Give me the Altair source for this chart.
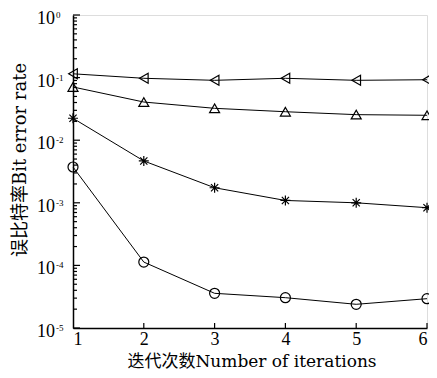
import altair as alt
import pandas as pd

iterations = [1, 2, 3, 4, 5, 6]
ber_tri_left = [0.115, 0.0975, 0.0905, 0.0975, 0.0905, 0.0925]
ber_tri_up = [0.0708, 0.0407, 0.0323, 0.0285, 0.0256, 0.0250]
ber_star = [0.0224, 0.00466, 0.00174, 0.00109, 0.00100, 0.000835]
ber_circle = [0.00373, 0.000113, 3.58e-5, 3.05e-5, 2.39e-5, 2.94e-5]

series_names = ["A", "B", "C", "D"]
series_values = [ber_tri_left, ber_tri_up, ber_star, ber_circle]
ASTERISK = "M-1,0L1,0M0,-1L0,1M-0.72,-0.72L0.72,0.72M-0.72,0.72L0.72,-0.72"
series_shapes = ["triangle-left", "triangle-up", ASTERISK, "circle"]

major_exps = [0, -1, -2, -3, -4, -5]
exp_labels = ["0", "-1", "-2", "-3", "-4", "-5"]
x_tick_values = [2, 3, 4, 5, 6]

FONT = "Liberation Serif, Noto Sans CJK SC"
TFONT = "DejaVu Serif, Noto Sans CJK SC"
W, H = 354, 313

rows = []
for name, vals in zip(series_names, series_values):
    for it, v in zip(iterations, vals):
        rows.append({"iteration": it, "ber": v, "series": name})
df = pd.DataFrame(rows)

major_df = pd.DataFrame({"ber": [10.0 ** e for e in major_exps], "exp": exp_labels})
minor_vals = []
for e in major_exps[1:]:
    for m in range(2, 10):
        minor_vals.append(m * 10.0 ** e)
minor_df = pd.DataFrame({"ber": minor_vals})
xt_df = pd.DataFrame({"iteration": x_tick_values})

yscale = alt.Scale(type="log", domain=[1e-5, 1], nice=False)
xscale = alt.Scale(domain=[1, 6], nice=False)

x_enc = alt.X(
    "iteration:Q",
    scale=xscale,
    axis=alt.Axis(
        values=iterations, format="d", ticks=False, grid=False,
        domainColor="black", domainWidth=1.5,
        labelFont=FONT, labelFontSize=18, labelColor="black", labelPadding=2,
        title=None,
    ),
)
y_enc = alt.Y(
    "ber:Q",
    scale=yscale,
    axis=alt.Axis(labels=False, ticks=False, grid=False, domainColor="black",
                  domainWidth=1.5, title=None),
)

lines = alt.Chart(df).mark_line(color="black", strokeWidth=1).encode(
    x=x_enc, y=y_enc, detail="series:N"
)
points = alt.Chart(df).mark_point(
    filled=False, color="black", strokeWidth=1.2, size=100, opacity=1
).encode(
    x=alt.X("iteration:Q", scale=xscale),
    y=alt.Y("ber:Q", scale=yscale),
    shape=alt.Shape("series:N", scale=alt.Scale(domain=series_names, range=series_shapes), legend=None),
)

major_ticks = alt.Chart(major_df).mark_rule(color="black", strokeWidth=1.2).encode(
    y=alt.Y("ber:Q", scale=yscale), x=alt.value(0), x2=alt.value(7)
)
minor_ticks = alt.Chart(minor_df).mark_rule(color="black", strokeWidth=1.2).encode(
    y=alt.Y("ber:Q", scale=yscale), x=alt.value(0), x2=alt.value(4)
)
x_ticks = alt.Chart(xt_df).mark_rule(color="black", strokeWidth=1.2).encode(
    x=alt.X("iteration:Q", scale=xscale), y=alt.value(H), y2=alt.value(H - 5)
)

base_lbl = alt.Chart(major_df).mark_text(
    font=FONT, fontSize=18, align="right", baseline="middle", dy=4, color="black"
).encode(y=alt.Y("ber:Q", scale=yscale), x=alt.value(-18), text=alt.value("10"))
exp_lbl = alt.Chart(major_df).mark_text(
    font=FONT, fontSize=9, align="left", baseline="middle", dy=0, color="black"
).encode(y=alt.Y("ber:Q", scale=yscale), x=alt.value(-17), text="exp:N")

y_title = alt.Chart(major_df.head(1)).mark_text(
    font=TFONT, fontSize=18, angle=270, align="center", baseline="middle", color="black",
    text="误比特率Bit error rate",
).encode(x=alt.value(-52), y=alt.value(145))

x_title = alt.Chart(major_df.head(1)).mark_text(
    font=TFONT, fontSize=17, align="center", baseline="middle", color="black",
    text="迭代次数Number of iterations",
).encode(x=alt.value(179), y=alt.value(347))

chart = alt.layer(
    lines, points, major_ticks, minor_ticks, x_ticks, base_lbl, exp_lbl, y_title, x_title
).properties(
    width=W, height=H,
    autosize=alt.AutoSizeParams(type="none"),
    padding={"left": 65, "top": 7, "right": 2, "bottom": 42},
).configure_view(stroke=None).configure(background="white")

chart.save("out.html", embed_options={"renderer": "svg", "actions": False})
